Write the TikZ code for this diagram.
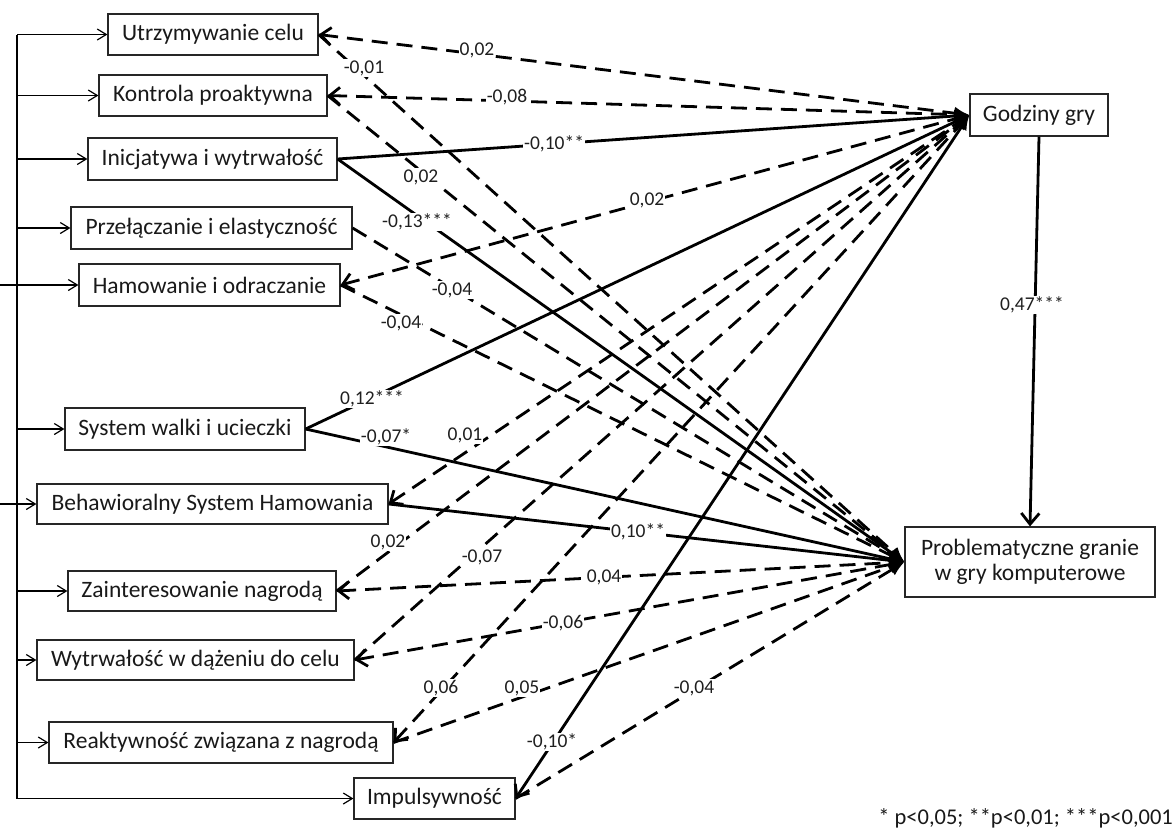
\documentclass[tikz,border=0pt]{standalone}
\usepackage{fontspec}
\setmainfont{Carlito}
\usetikzlibrary{arrows.meta}
\begin{document}
\begin{tikzpicture}[x=1pt,y=-1pt,
  box/.style={draw=black!85, line width=1.2pt, inner sep=0pt, align=center,
    font=\fontsize{23.5}{25}\selectfont, text=black!90},
  lab/.style={fill=white, inner sep=1.2pt, font=\fontsize{19.5}{21}\selectfont, text=black!88},
  link/.style={line width=2.8pt, -{Latex[length=15pt,width=13pt]}},
  dl/.style={link, dash pattern=on 16pt off 9pt},
  bb/.style={{Straight Barb[length=10pt,width=17pt]}-{Latex[length=15pt,width=13pt]}},
  brk/.style={line width=1.2pt, -{Straight Barb[length=9pt,width=11pt]}},
]
\useasboundingbox (0,0) rectangle (1175,833);
\fill[white] (0,0) rectangle (1175,833);

% predictor boxes
\node[box, minimum width=210pt, minimum height=41pt] (b1) at (213,34.5) {Utrzymywanie celu};
\node[box, minimum width=228pt, minimum height=41pt] (b2) at (213,95.5) {Kontrola proaktywna};
\node[box, minimum width=249pt, minimum height=42pt] (b3) at (212.5,159) {Inicjatywa i wytrwałość};
\node[box, minimum width=281pt, minimum height=42pt] (b4) at (211.5,228) {Przełączanie i elastyczność};
\node[box, minimum width=261pt, minimum height=42pt] (b5) at (209.5,285) {Hamowanie i odraczanie};
\node[box, minimum width=240pt, minimum height=42pt] (b6) at (185,429) {System walki i ucieczki};
\node[box, minimum width=351pt, minimum height=40pt] (b7) at (212.5,504) {Behawioralny System Hamowania};
\node[box, minimum width=268pt, minimum height=40pt] (b8) at (202,591) {Zainteresowanie nagrodą};
\node[box, minimum width=317pt, minimum height=40pt] (b9) at (195.5,660) {Wytrwałość w dążeniu do celu};
\node[box, minimum width=344pt, minimum height=41pt] (b10) at (221,742.5) {Reaktywność związana z nagrodą};
\node[box, minimum width=161pt, minimum height=41pt] (b11) at (434.5,798.5) {Impulsywność};

% outcome boxes
\node[box, minimum width=138pt, minimum height=42pt] (G) at (1039,115) {Godziny gry};
\node[box, minimum width=250pt, minimum height=70pt] (P) at (1030,562) {Problematyczne granie\\w gry komputerowe};

% left bracket
\coordinate (vt) at (17,34.5);
\coordinate (vb) at (17,798.5);
\coordinate (L0) at (0,0);
\coordinate (vk1) at (17,268);
\coordinate (vk2) at (17,782);
\draw[line width=1.2pt] (vt) -- (vb);
\draw[line width=2.6pt] (vk1) -- (vk2);
\foreach \b in {b1,b2,b3,b4,b6,b8,b9,b10,b11}
  \draw[brk] (\b.west -| vt) -- (\b.west);
\draw[brk] (b5.west -| L0) -- (b5.west);
\draw[brk] (b7.west -| L0) -- (b7.west);

% paths to Godziny gry
\draw[dl,bb] (b1.east) -- (G.west);
\draw[dl,bb] (b2.east) -- (G.west);
\draw[link] (b3.east) -- (G.west);
\draw[dl,bb] (b5.east) -- (G.west);
\draw[link] (b6.east) -- (G.west);
\draw[dl,bb] (b7.east) -- (G.west);
\draw[dl] (b8.east) -- (G.west);
\draw[dl] (b9.east) -- (G.west);
\draw[dl,bb] (b10.east) -- (G.west);
\draw[link,bb] (b11.east) -- (G.west);

% paths to Problematyczne granie
\draw[dl] (b1.east) -- (P.west);
\draw[dl] (b2.east) -- (P.west);
\draw[link] (b3.east) -- (P.west);
\draw[dl] (b4.east) -- (P.west);
\draw[dl] (b5.east) -- (P.west);
\draw[link] (b6.east) -- (P.west);
\draw[link] (b7.east) -- (P.west);
\draw[dl,bb] (b8.east) -- (P.west);
\draw[dl,bb] (b9.east) -- (P.west);
\draw[dl] (b10.east) -- (P.west);
\draw[dl] (b11.east) -- (P.west);

% Godziny -> Problematyczne
\draw[line width=2.8pt, -{Straight Barb[length=11pt,width=18pt]}] (G.south) -- (P.north);

% coefficient labels
\node[lab] (l1) at (477,50) {0,02};
\node[lab] (l2) at (364,68) {-0,01};
\node[lab] (l3) at (507,97) {-0,08};
\node[lab] (l4) at (421,177) {0,02};
\node[lab] (l5) at (554,144) {-0,10**};
\node[lab] (l6) at (417,222) {-0,13***};
\node[lab] (l7) at (647,200) {0,02};
\node[lab] (l8) at (452,290) {-0,04};
\node[lab] (l9) at (401,323) {-0,04};
\node[lab] (l10) at (372,399) {0,12***};
\node[lab] (l11) at (386,437) {-0,07*};
\node[lab] (l12) at (465,435) {0,01};
\node[lab] (l13) at (638,532) {0,10**};
\node[lab] (l14) at (388,542) {0,02};
\node[lab] (l15) at (482,557) {-0,07};
\node[lab] (l16) at (604,577) {0,04};
\node[lab] (l17) at (563,623) {-0,06};
\node[lab] (l18) at (441,688) {0,06};
\node[lab] (l19) at (522,688) {0,05};
\node[lab] (l20) at (694,688) {-0,04};
\node[lab] (l21) at (552,742) {-0,10*};
\node[lab] (l22) at (1032,305) {0,47***};

% footnote
\node[anchor=east, inner sep=0pt, font=\fontsize{22.5}{24}\selectfont, text=black!90] (fn) at (1173,818) {* p<0,05; **p<0,01; ***p<0,001};
\end{tikzpicture}
\end{document}
